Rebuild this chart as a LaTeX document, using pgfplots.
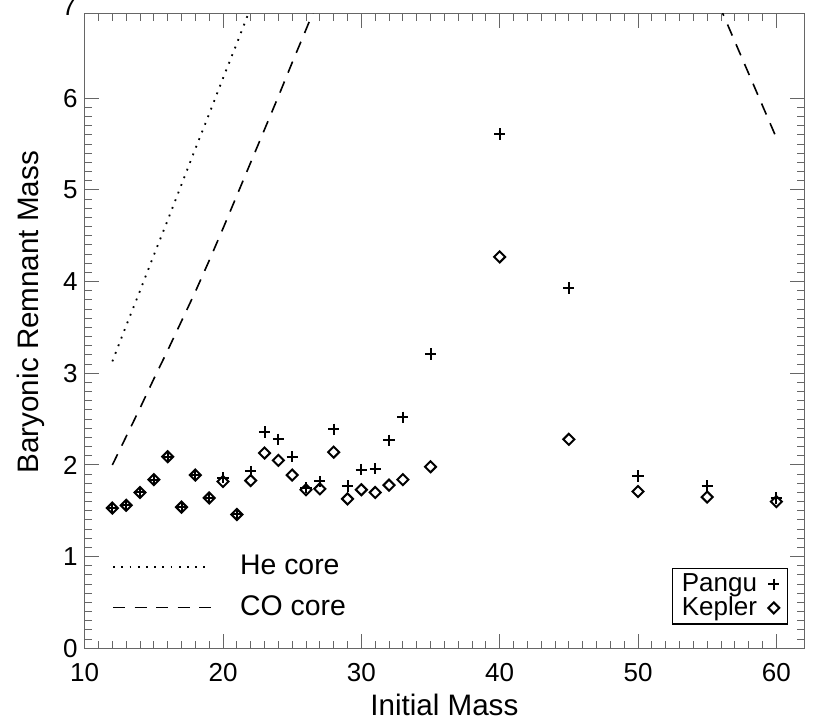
\documentclass[border=0pt]{standalone}
\usepackage{fontspec}
\setmainfont{Liberation Sans}
\usepackage{pgfplots}
\pgfplotsset{compat=1.18}
\newcommand{\lfa}{\fontsize{13}{15}\selectfont}
\newcommand{\lfb}{\fontsize{14.2}{17}\selectfont}
\begin{document}
\begin{tikzpicture}
\pgfplotsset{
  base/.style={
    scale only axis, width=359.7pt, height=317.2pt,
    xmin=10, xmax=62, ymin=0, ymax=6.92,
  }
}
\begin{axis}[base,
  axis line style={draw=black!60, line width=0.5pt},
  xtick={10,20,...,60}, ytick={0,1,...,6},
  minor x tick num=9, minor y tick num=9,
  tick style={black!60, line width=0.5pt},
  major tick length=7pt, minor tick length=3.5pt,
  tick align=inside,
  /pgf/number format/assume math mode=true,
  ticklabel style={font=\fontsize{13}{15}\selectfont},
  xticklabel style={yshift=-4pt},
  xlabel={Initial Mass}, ylabel={Baryonic Remnant Mass},
  label style={font=\fontsize{14.8}{17}\selectfont},
  xlabel style={at={(axis description cs:0.5,0)}, anchor=center, yshift=-28.3pt},
  ylabel style={at={(axis description cs:-0.0746,0.53)}, anchor=center},
  legend plot pos=right,
  legend style={draw=black, line width=0.8pt,
    at={(axis description cs:0.978,0.037)}, anchor=south east,
    inner xsep=4pt, inner ysep=2pt, row sep=0pt, column sep=5pt,
    nodes={inner sep=0.6pt}},
  legend cell align=left,
]
\addplot[only marks, mark=+, mark size=2.8pt, line width=1pt, black] coordinates {
(12,1.53) (13,1.56) (14,1.70) (15,1.84) (16,2.09) (17,1.54) (18,1.89) (19,1.64)
(20,1.86) (21,1.46) (22,1.93) (23,2.36) (24,2.28) (25,2.09) (26,1.75) (27,1.82)
(28,2.39) (29,1.77) (30,1.95) (31,1.96) (32,2.27) (33,2.52) (35,3.21) (40,5.61)
(45,3.93) (50,1.88) (55,1.77) (60,1.64)
};
\addlegendentry{\lfa Pangu}
\addplot[only marks, mark=square, mark size=1.95pt, mark options={rotate=45}, line width=1pt, black] coordinates {
(12,1.53) (13,1.56) (14,1.70) (15,1.84) (16,2.09) (17,1.54) (18,1.89) (19,1.64)
(20,1.82) (21,1.46) (22,1.83) (23,2.13) (24,2.05) (25,1.89) (26,1.73) (27,1.74)
(28,2.14) (29,1.63) (30,1.73) (31,1.70) (32,1.78) (33,1.84) (35,1.98) (40,4.27)
(45,2.28) (50,1.71) (55,1.65) (60,1.60)
};
\addlegendentry{\lfa Kepler}
\coordinate (seven) at (axis cs:10,7);
\end{axis}
\begin{axis}[base, hide axis,
  legend style={draw=none, fill=none,
    at={(axis cs:11.97,1.04)}, anchor=north west,
    inner sep=0pt, row sep=7pt, column sep=13pt,
    nodes={inner sep=1pt}},
  legend cell align=left,
  legend image code/.code={\draw[#1] (0pt,0pt) -- (49pt,0pt);},
]
\addplot[black, line width=0.9pt, dash pattern=on 0.9pt off 3.2pt] coordinates {
(12,3.13) (13,3.52) (14,3.90) (15,4.29) (16,4.67) (17,5.06) (18,5.45) (19,5.83)
(20,6.22) (21,6.60) (22,6.99) (23,7.38)
};
\addlegendentry{\lfb He core}
\addplot[black, line width=0.8pt, dash pattern=on 6pt off 4.75pt] coordinates {
(12,2.00) (13,2.31) (14,2.62) (15,2.94) (16,3.25) (17,3.57) (18,3.89) (19,4.23)
(20,4.58) (21,4.94) (22,5.30) (23,5.66) (24,6.02) (25,6.39) (26,6.75) (27,7.12)
(28,7.5) (30,8.2) (35,10.0) (40,12.0) (45,11.0) (50,9.1) (55,7.32) (60,5.57)
};
\addlegendentry{\lfb CO core}
\end{axis}
\node[anchor=east, font=\fontsize{13}{15}\selectfont, inner sep=4pt] at (seven) {7};
\pgfresetboundingbox
\path ([xshift=-42.35pt,yshift=-35.8pt]current axis.south west) rectangle ([xshift=5.5pt,yshift=7pt]current axis.north east);
\end{tikzpicture}
\end{document}
